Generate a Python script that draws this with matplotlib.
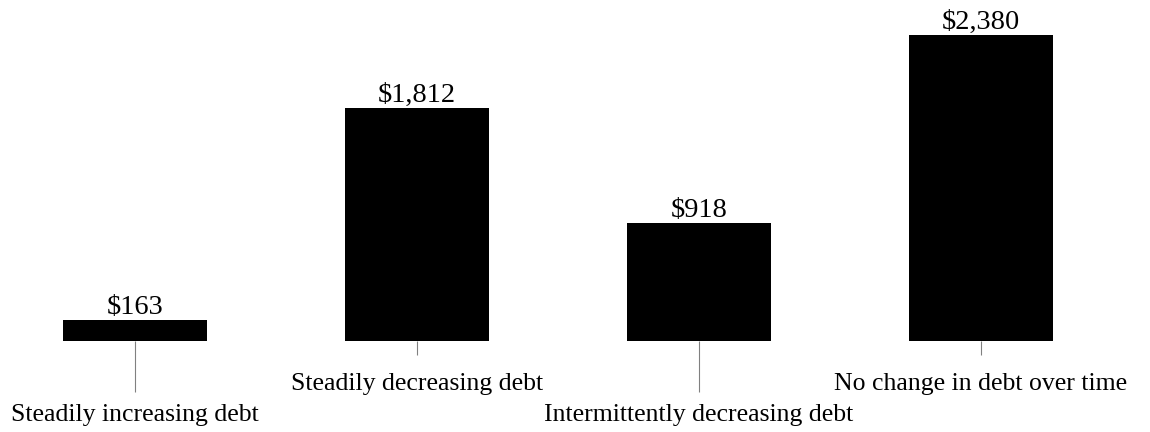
import matplotlib.pyplot as plt

categories = ["Steadily increasing debt", "Steadily decreasing debt",
              "Intermittently decreasing debt", "No change in debt over time"]
values = [163, 1812, 918, 2380]

plt.rcParams['font.family'] = ['Liberation Serif', 'DejaVu Serif']

fig = plt.figure(figsize=(11.5, 4.32), dpi=100)
ax = fig.add_axes([0, 91 / 432, 1, 341 / 432])

x = list(range(len(values)))
bars = ax.bar(x, values, width=0.51, color="black")
for xi, v in zip(x, values):
    ax.annotate(f"${v:,}", (xi, v), xytext=(0, 0), textcoords="offset points",
                ha="center", va="bottom", fontsize=20.5)

ax.set_xlim(-135 / 282, 1015 / 282)
ax.set_ylim(0, 341 * 2380 / 306)

# staggered labels: long ticks on even positions, short ticks on odd ones
ax.set_xticks(x[0::2], [categories[i] for i in x[0::2]])
ax.set_xticks(x[1::2], [categories[i] for i in x[1::2]], minor=True)
ax.tick_params(axis="x", which="major", length=36.5, width=0.8,
               color="#808080", pad=8.5, labelsize=18.5)
ax.tick_params(axis="x", which="minor", length=10, width=0.8,
               color="#808080", pad=13, labelsize=18.5)
ax.set_yticks([])
for s in ax.spines.values():
    s.set_visible(False)

fig.savefig("out.png", dpi=100)
